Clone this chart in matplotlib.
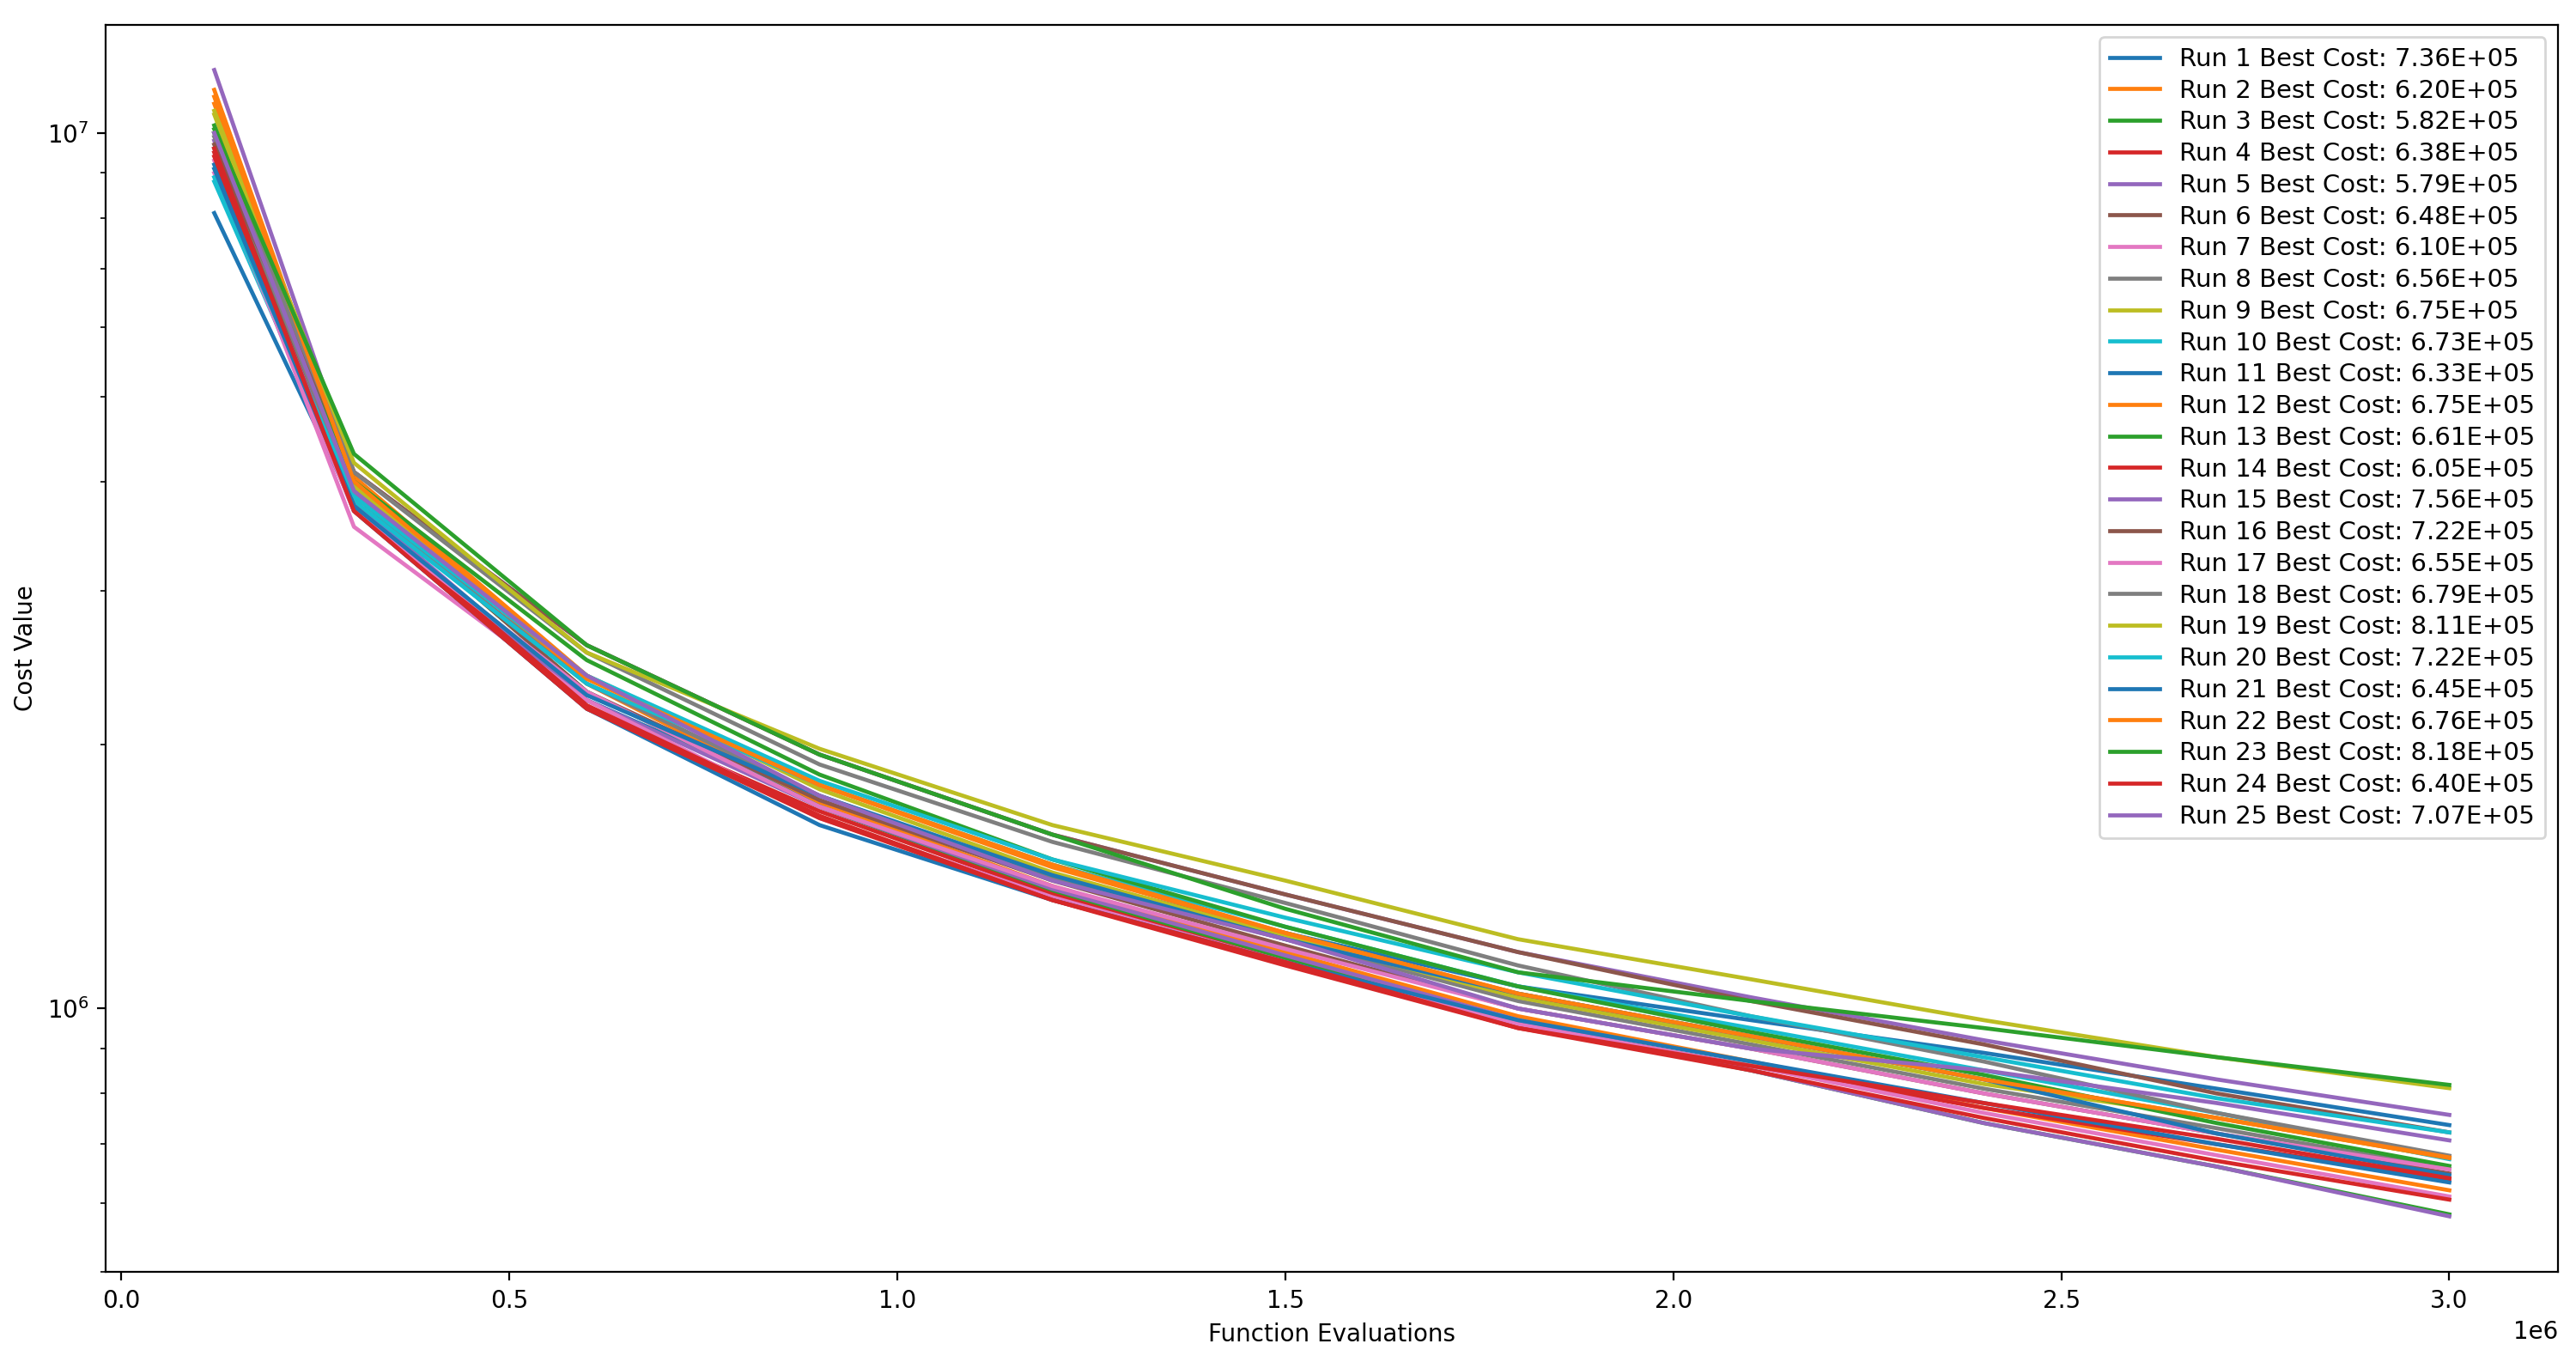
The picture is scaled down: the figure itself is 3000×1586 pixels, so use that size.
import numpy as np
import matplotlib.pyplot as plt

evals = [120000, 300000, 600000, 900000, 1200000, 1500000, 1800000, 2100000, 2400000, 2700000, 3000000]

runs = [
    [8.1e6, 3.75e6, 2.25e6, 1.72e6, 1.42e6, 1.22e6, 1.06e6, 0.97e6, 0.89e6, 0.81e6, 7.36e5],
    [1.12e7, 4.0e6, 2.35e6, 1.72e6, 1.38e6, 1.16e6, 0.98e6, 0.87e6, 0.77e6, 0.69e6, 6.20e5],
    [1.0e7, 3.9e6, 2.3e6, 1.7e6, 1.36e6, 1.14e6, 0.96e6, 0.85e6, 0.74e6, 0.66e6, 5.82e5],
    [9.5e6, 3.7e6, 2.2e6, 1.68e6, 1.35e6, 1.13e6, 0.96e6, 0.86e6, 0.77e6, 0.70e6, 6.38e5],
    [9.8e6, 3.8e6, 2.25e6, 1.7e6, 1.37e6, 1.15e6, 0.97e6, 0.85e6, 0.74e6, 0.66e6, 5.79e5],
    [9.6e6, 3.9e6, 2.3e6, 1.73e6, 1.4e6, 1.18e6, 1.0e6, 0.9e6, 0.8e6, 0.72e6, 6.48e5],
    [9.3e6, 3.55e6, 2.25e6, 1.65e6, 1.34e6, 1.13e6, 0.96e6, 0.86e6, 0.76e6, 0.68e6, 6.10e5],
    [9.9e6, 3.85e6, 2.35e6, 1.75e6, 1.41e6, 1.2e6, 1.02e6, 0.91e6, 0.81e6, 0.73e6, 6.56e5],
    [1.05e7, 3.95e6, 2.4e6, 1.78e6, 1.43e6, 1.21e6, 1.03e6, 0.92e6, 0.82e6, 0.75e6, 6.75e5],
    [8.8e6, 3.8e6, 2.35e6, 1.8e6, 1.46e6, 1.24e6, 1.06e6, 0.95e6, 0.85e6, 0.76e6, 6.73e5],
    [9.2e6, 3.7e6, 2.2e6, 1.62e6, 1.33e6, 1.13e6, 0.97e6, 0.87e6, 0.78e6, 0.70e6, 6.33e5],
    [1.08e7, 4.05e6, 2.4e6, 1.8e6, 1.46e6, 1.22e6, 1.04e6, 0.93e6, 0.83e6, 0.75e6, 6.75e5],
    [1.02e7, 4.0e6, 2.5e6, 1.85e6, 1.48e6, 1.24e6, 1.06e6, 0.94e6, 0.84e6, 0.74e6, 6.61e5],
    [9.4e6, 3.75e6, 2.22e6, 1.66e6, 1.33e6, 1.12e6, 0.95e6, 0.85e6, 0.75e6, 0.67e6, 6.05e5],
    [1.18e7, 4.1e6, 2.6e6, 1.95e6, 1.58e6, 1.35e6, 1.16e6, 1.03e6, 0.92e6, 0.83e6, 7.56e5],
    [9.7e6, 4.1e6, 2.6e6, 1.95e6, 1.58e6, 1.35e6, 1.16e6, 1.02e6, 0.91e6, 0.8e6, 7.22e5],
    [9.0e6, 3.7e6, 2.3e6, 1.7e6, 1.38e6, 1.17e6, 1.0e6, 0.9e6, 0.8e6, 0.72e6, 6.55e5],
    [1.0e7, 4.1e6, 2.55e6, 1.9e6, 1.55e6, 1.32e6, 1.12e6, 0.98e6, 0.87e6, 0.76e6, 6.79e5],
    [1.06e7, 4.2e6, 2.55e6, 1.98e6, 1.62e6, 1.4e6, 1.2e6, 1.08e6, 0.97e6, 0.88e6, 8.11e5],
    [8.9e6, 3.85e6, 2.4e6, 1.82e6, 1.48e6, 1.27e6, 1.1e6, 0.98e6, 0.88e6, 0.79e6, 7.22e5],
    [9.1e6, 3.75e6, 2.28e6, 1.75e6, 1.42e6, 1.2e6, 1.04e6, 0.93e6, 0.83e6, 0.72e6, 6.45e5],
    [1.1e7, 4.0e6, 2.38e6, 1.8e6, 1.45e6, 1.22e6, 1.04e6, 0.93e6, 0.83e6, 0.75e6, 6.76e5],
    [1.01e7, 4.3e6, 2.6e6, 1.95e6, 1.58e6, 1.3e6, 1.1e6, 1.02e6, 0.95e6, 0.88e6, 8.18e5],
    [9.6e6, 3.7e6, 2.2e6, 1.65e6, 1.33e6, 1.13e6, 0.95e6, 0.86e6, 0.78e6, 0.71e6, 6.40e5],
    [1.0e7, 3.9e6, 2.4e6, 1.75e6, 1.4e6, 1.2e6, 1.0e6, 0.9e6, 0.85e6, 0.78e6, 7.07e5],
]

fig, ax = plt.subplots(figsize=(15, 7.93), dpi=200)
for i, r in enumerate(runs):
    ax.plot(evals, r, lw=1.7, label="Run {} Best Cost: {:.2E}".format(i + 1, r[-1]))

ax.set_yscale('log')
ax.set_ylim(5.0e5, 1.33e7)
ax.set_xlim(-20000, 3140000)
ax.set_xlabel('Function Evaluations')
ax.set_ylabel('Cost Value')
ax.legend(loc='upper right', fontsize=10.5, labelspacing=0.3)
plt.subplots_adjust(left=0.041, right=0.993, bottom=0.066, top=0.982)
plt.savefig('out.png')
